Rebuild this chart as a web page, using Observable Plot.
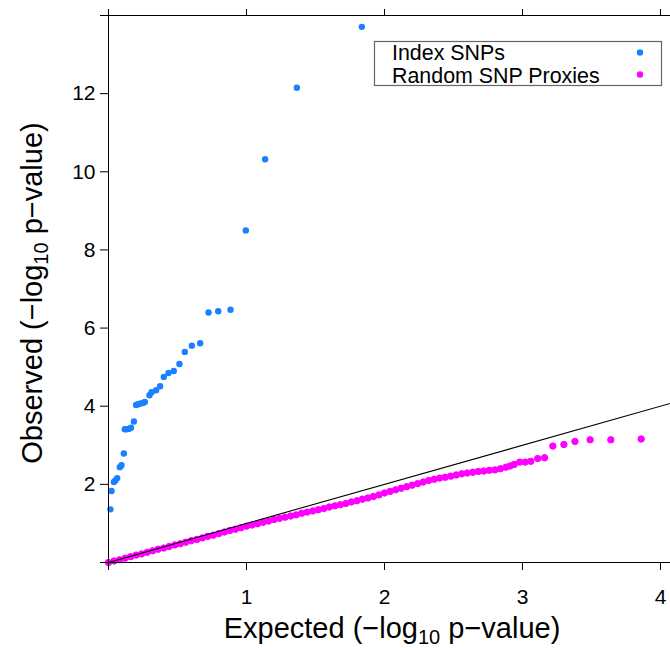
<!DOCTYPE html>
<html>
<head>
<meta charset="utf-8">
<script src="https://cdn.jsdelivr.net/npm/d3@7"></script>
<script src="https://cdn.jsdelivr.net/npm/@observablehq/plot@0.6"></script>
<style>
  html, body { margin: 0; padding: 0; background: white; }
  #wrap { width: 670px; height: 648px; overflow: hidden; position: relative; }
</style>
</head>
<body>
<div id="wrap"></div>
<script>
// ---- data ----
const indexExpected = [0.014, 0.022, 0.039, 0.050, 0.063, 0.082, 0.094, 0.111, 0.118, 0.133, 0.148, 0.163, 0.184,
  0.200, 0.215, 0.232, 0.249, 0.263, 0.297, 0.312, 0.345, 0.374, 0.401, 0.435, 0.473, 0.514, 0.553, 0.604, 0.664,
  0.725, 0.795, 0.884, 0.995, 1.135, 1.365, 1.836];
const indexObserved = [1.36, 1.83, 2.06, 2.10, 2.16, 2.44, 2.49, 2.79, 3.41, 3.41, 3.42, 3.45, 3.61,
  4.03, 4.05, 4.07, 4.08, 4.11, 4.28, 4.36, 4.41, 4.51, 4.75, 4.85, 4.90, 5.08, 5.39, 5.55, 5.61,
  6.40, 6.43, 6.47, 8.50, 10.32, 12.15, 13.71];

const proxyExpected = [0.00, 0.04, 0.08, 0.12, 0.16, 0.20, 0.24, 0.28, 0.32, 0.36, 0.40, 0.44, 0.48, 0.52, 0.56,
  0.60, 0.64, 0.68, 0.72, 0.76, 0.80, 0.84, 0.88, 0.92, 0.96, 1.00, 1.04, 1.08, 1.12, 1.16, 1.20, 1.24, 1.28,
  1.32, 1.36, 1.40, 1.44, 1.48, 1.52, 1.56, 1.60, 1.64, 1.68, 1.72, 1.76, 1.80, 1.84, 1.88, 1.92, 1.96, 2.00,
  2.04, 2.08, 2.12, 2.16, 2.20, 2.24, 2.28, 2.32, 2.36, 2.40, 2.44, 2.48, 2.52, 2.56, 2.60, 2.64, 2.68, 2.72,
  2.76, 2.80, 2.84, 2.88, 2.91, 2.94, 2.98, 3.02, 3.06, 3.11, 3.16, 3.22, 3.30, 3.38, 3.49, 3.64, 3.86];
const proxyObserved = [0.00, 0.04, 0.07, 0.11, 0.15, 0.19, 0.22, 0.26, 0.30, 0.34, 0.37, 0.41, 0.45, 0.48, 0.52,
  0.56, 0.59, 0.63, 0.67, 0.70, 0.74, 0.78, 0.82, 0.85, 0.89, 0.93, 0.96, 0.99, 1.03, 1.06, 1.10, 1.13, 1.16,
  1.19, 1.22, 1.26, 1.29, 1.32, 1.35, 1.38, 1.42, 1.45, 1.48, 1.51, 1.55, 1.58, 1.62, 1.65, 1.69, 1.73, 1.78,
  1.82, 1.86, 1.90, 1.94, 1.98, 2.02, 2.06, 2.10, 2.13, 2.16, 2.18, 2.21, 2.24, 2.27, 2.29, 2.31, 2.33, 2.34,
  2.36, 2.37, 2.40, 2.44, 2.47, 2.51, 2.57, 2.57, 2.59, 2.66, 2.68, 2.98, 3.02, 3.10, 3.14, 3.14, 3.16];

const xTicks = [0, 1, 2, 3, 4];
const yTicks = [0, 2, 4, 6, 8, 10, 12, 14];
const xDomain = [0, 4.116];
const yDomain = [0, 14];
const refLine = [0, 4.2];
const seriesNames = ["Index SNPs", "Random SNP Proxies"];
const seriesColors = ["#1a80ff", "#ff00ff"];

const indexData = indexExpected.map((e, i) => ({e, o: indexObserved[i]}));
const proxyData = proxyExpected.map((e, i) => ({e, o: proxyObserved[i]}));

const font = "'Liberation Sans', Arial, Helvetica, sans-serif";

const chart = Plot.plot({
  width: 670,
  height: 648,
  marginLeft: 108,
  marginRight: 0,
  marginTop: 15,
  marginBottom: 86,
  x: {domain: xDomain, range: [108, 676]},
  y: {domain: yDomain},
  style: {fontFamily: font, fontSize: "21px", color: "black", background: "white", overflow: "hidden"},
  marks: [
    Plot.dot(proxyData, {x: "e", y: "o", r: 3.2, fill: seriesColors[1], stroke: seriesColors[1], strokeWidth: 1}),
    Plot.line(refLine, {x: d => d, y: d => d, stroke: "black", strokeWidth: 1.1, clip: true}),
    Plot.dot(indexData, {x: "e", y: "o", r: 3.2, fill: seriesColors[0], stroke: "none"}),
    Plot.ruleY([yDomain[0], yDomain[1]], {stroke: "black", strokeWidth: 1}),
    Plot.ruleX([xDomain[0]], {stroke: "black", strokeWidth: 1}),
    Plot.axisX({anchor: "bottom", ticks: xTicks, tickSize: 8, tickPadding: 19,
      tickFormat: d => d === 0 ? "" : String(d), label: null, fontSize: 21, stroke: "black"}),
    Plot.axisX({anchor: "top", ticks: xTicks, tickSize: 7, tickFormat: () => "", label: null, stroke: "black"}),
    Plot.axisY({anchor: "left", ticks: yTicks, tickSize: 8, tickPadding: 5,
      tickFormat: d => (d === 0 || d === 14) ? "" : String(d), label: null, fontSize: 21, stroke: "black"})
  ]
});

document.getElementById("wrap").appendChild(chart);

// ---- axis titles with subscripts ----
const svg = d3.select(chart);
const titleSize = 29, subSize = 20;

function title(g) {
  g.attr("font-family", font).attr("font-size", titleSize).attr("fill", "black").attr("text-anchor", "middle");
  return g;
}
const xt = title(svg.append("text")).attr("x", 392).attr("y", 638);
xt.append("tspan").text("Expected (\u2212log");
xt.append("tspan").attr("font-size", subSize).attr("dy", 6).text("10");
xt.append("tspan").attr("dy", -6).text(" p\u2212value)");

const yt = title(svg.append("text")).attr("transform", "translate(42,293) rotate(-90)");
yt.append("tspan").text("Observed (\u2212log");
yt.append("tspan").attr("font-size", subSize).attr("dy", 6).text("10");
yt.append("tspan").attr("dy", -6).text(" p\u2212value)");

// ---- legend ----
const lg = svg.append("g").attr("font-family", font).attr("font-size", 21.4).attr("text-anchor", "start");
lg.append("rect").attr("x", 374.5).attr("y", 41.5).attr("width", 287).attr("height", 44)
  .attr("fill", "white").attr("stroke", "#666").attr("stroke-width", 1.2);
seriesNames.forEach((name, i) => {
  lg.append("text").attr("x", 392).attr("y", 60 + i * 22.5).attr("fill", "black")
    .attr("text-anchor", "start").text(name);
  lg.append("circle").attr("cx", 640).attr("cy", 52.5 + i * 22).attr("r", 3.2).attr("fill", seriesColors[i]);
});
</script>
</body>
</html>
